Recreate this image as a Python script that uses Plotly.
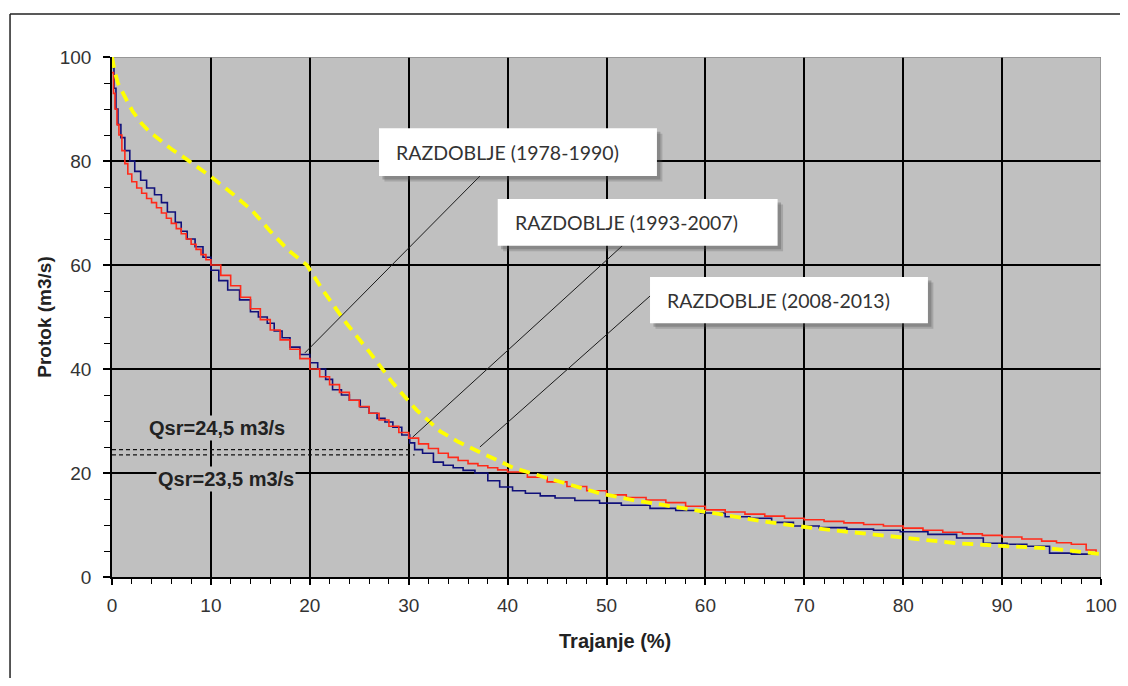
import plotly.graph_objects as go

# ---- data ----
x_1978 = [0, 0.15, 0.3, 0.5, 0.7, 1.0, 1.3, 1.6, 2.0, 2.5, 3, 3.5, 4, 4.5, 5, 5.5, 6, 6.5, 7, 7.5, 8, 8.5, 9, 9.5,
          10, 11, 12, 13, 14, 15, 16, 17, 18, 19, 20, 21, 22, 23, 24, 25, 26, 27, 28, 29, 30, 31, 32, 33, 34, 35,
          36, 37, 38, 39, 40, 42, 44, 46, 48, 50, 52, 54, 56, 58, 60, 62, 64, 66, 68, 70, 72, 74, 76, 78, 80, 82,
          84, 86, 88, 90, 92, 94, 95.5, 97, 98.5, 99.5]
y_1978 = [97, 93, 90, 87, 85, 82, 79.5, 77.5, 76, 74.8, 73.8, 72.8, 72, 71, 70, 69, 68, 67, 66, 65, 64, 63, 62, 61,
          60, 58, 56, 53.8, 51.6, 49.5, 47.5, 45.6, 43.8, 42, 40, 38.5, 37, 35.5, 34, 32.8, 31.5, 30.2, 29, 27.8,
          26.7, 25.6, 24.7, 23.8, 23, 22.4, 21.8, 21.4, 21, 20.6, 20.2, 19.2, 18.3, 17.4, 16.6, 15.8, 15.3, 14.8,
          14.3, 13.6, 12.9, 12.5, 12.1, 11.7, 11.3, 11, 10.7, 10.4, 10.1, 9.8, 9.4, 9.0, 8.6, 8.3, 8.0, 7.7, 7.3,
          6.9, 6.6, 6.3, 5.2, 4.6]

x_1993 = [0, 0.2, 0.4, 0.6, 0.9, 1.3, 1.8, 2.3, 2.9, 3.5, 4.3, 5.0, 5.6, 6.4, 7.0, 7.6, 8.4, 9.2, 10, 10.8, 11.7,
          12.9, 14.0, 14.8, 15.7, 16.4, 17.2, 18.0, 19.0, 20.0, 20.8, 21.6, 22.3, 23.2, 24.0, 25.1, 26.0, 26.8,
          27.6, 28.4, 29.3, 30.1, 30.6, 31.4, 32.5, 33.5, 34.5, 35.5, 36.7, 38.0, 39.2, 40.5, 41.8, 43.3, 44.8,
          46.8, 49.3, 51.5, 54.4, 57.0, 59.5, 62.0, 64.5, 66.7, 68.9, 71.5, 74.3, 77.0, 79.7, 82.5, 85.4, 88.1,
          90.5, 92.5, 94.8, 97.0, 99.0]
y_1993 = [98, 94, 90, 87, 84.5, 82, 80, 78, 76.3, 74.8, 73.5, 72, 70.2, 68.2, 66.5, 65, 63.5, 61.5, 59, 57, 55.2,
          53.3, 51, 50, 48.8, 47.3, 46, 44.2, 42.8, 41.2, 40, 38, 36, 35, 34, 32.7, 31.5, 30.5, 29.8, 28.8, 27.3,
          25.8, 24.5, 23.8, 22.1, 21.5, 21, 20.5, 20, 18.5, 17.3, 16.6, 16.1, 15.6, 15.2, 14.7, 14.2, 13.8, 13.2,
          12.8, 12.3, 11.6, 11.3, 10.5, 9.8, 9.5, 9.2, 9.0, 8.7, 8.2, 7.5, 6.5, 6.3, 5.9, 4.6, 4.4, 4.4]

x_2008 = [0, 0.3, 0.6, 1.0, 1.4, 2.1, 3.0, 3.8, 5.0, 6.0, 7.2, 8.5, 10, 12, 14.1, 16, 17.8, 19.7, 21.3, 23.7,
          26.1, 28.4, 30.8, 33.2, 35, 37.2, 40.6, 44.6, 49.3, 52.7, 57.7, 62.8, 66.2, 70.9, 78.3, 85.4, 89.8,
          94.8, 100]
y_2008 = [100, 97, 95, 93.3, 92, 89.5, 87.2, 85.6, 83.8, 82.3, 80.8, 79, 77, 74, 70.6, 66.5, 62.9, 60, 55.2, 48.8,
          43.1, 37.3, 32.1, 28, 26, 24, 21, 18.7, 16.1, 14.8, 13.3, 11.6, 10.6, 9.4, 7.9, 6.5, 6.0, 5.5, 4.4]

qsr_values = [24.5, 23.5]
qsr_labels = ["Qsr=24,5 m3/s", "Qsr=23,5 m3/s"]
qsr_end_x = [30.4, 30.6]

period_labels = ["RAZDOBLJE (1978-1990)", "RAZDOBLJE (1993-2007)", "RAZDOBLJE (2008-2013)"]
# label box (x0, x1, y0, y1) and leader line (x_point, y_point, x_box, y_box)
box_pos = [(27.0, 55.1, 77.1, 86.3), (39.0, 67.3, 63.7, 72.7), (54.4, 82.5, 48.8, 57.7)]
leaders = [(19.5, 43.1, 37.2, 77.1), (30.4, 26.9, 51.6, 63.7), (37.2, 25.0, 54.5, 54.2)]

x_ticks = list(range(0, 101, 10))
y_ticks = list(range(0, 101, 20))

# ---- figure ----
fig = go.Figure()

fig.add_trace(go.Scatter(x=x_1993, y=y_1993, mode="lines", line=dict(color="#10107a", width=1.6, shape="hv"),
                         name="RAZDOBLJE (1993-2007)"))
fig.add_trace(go.Scatter(x=x_1978, y=y_1978, mode="lines", line=dict(color="#ff2a1a", width=1.6, shape="hv"),
                         name="RAZDOBLJE (1978-1990)"))
fig.add_trace(go.Scatter(x=x_2008, y=y_2008, mode="lines",
                         line=dict(color="#ffff00", width=3.8, dash="11px,7px"),
                         name="RAZDOBLJE (2008-2013)"))

for q, xe in zip(qsr_values, qsr_end_x):
    fig.add_trace(go.Scatter(x=[0, xe], y=[q, q], mode="lines",
                             line=dict(color="#111111", width=1.2, dash="4px,3px"), hoverinfo="skip"))

shapes = []
# gray top / right edges of plot area
shapes.append(dict(type="line", xref="x", yref="y", x0=0, x1=100, y0=100, y1=100,
                   line=dict(color="#8a8a8a", width=1.5), layer="between"))
shapes.append(dict(type="line", xref="x", yref="y", x0=100, x1=100, y0=0, y1=100,
                   line=dict(color="#8a8a8a", width=1.5), layer="between"))
# outer chart border (top and left)
shapes.append(dict(type="line", xref="paper", yref="paper", x0=-0.1031, x1=1.0192, y0=1.0827, y1=1.0827,
                   line=dict(color="#222222", width=1.5)))
shapes.append(dict(type="line", xref="paper", yref="paper", x0=-0.1031, x1=-0.1031, y0=1.0827, y1=-0.2,
                   line=dict(color="#222222", width=1.5)))

# leader lines
for (xp, yp, xb, yb) in leaders:
    shapes.append(dict(type="line", xref="x", yref="y", x0=xp, y0=yp, x1=xb, y1=yb,
                       line=dict(color="#1a1a1a", width=1), layer="above"))

# label boxes with soft shadow
for (x0, x1, y0, y1) in box_pos:
    for k, op in [(0.55, 0.22), (0.35, 0.3)]:
        shapes.append(dict(type="rect", xref="x", yref="y", x0=x0 + k, x1=x1 + k, y0=y0 - 1.9 * k, y1=y1 - 1.9 * k,
                           fillcolor="rgba(70,70,70,%s)" % op, line=dict(width=0), layer="above"))
    shapes.append(dict(type="rect", xref="x", yref="y", x0=x0, x1=x1, y0=y0, y1=y1,
                       fillcolor="white", line=dict(width=0), layer="above"))

annotations = []
for lab, (x0, x1, y0, y1) in zip(period_labels, box_pos):
    annotations.append(dict(x=x0 + 1.5, y=(y0 + y1) / 2, xref="x", yref="y", text=lab, showarrow=False,
                            xanchor="left", yanchor="middle",
                            font=dict(family="Lato, Open Sans, sans-serif", size=19.5, color="#333333")))

annotations.append(dict(x=3.5, y=28.7, xref="x", yref="y", text="<b>" + qsr_labels[0] + "</b>", showarrow=False,
                        xanchor="left", yanchor="middle", bgcolor="#c0c0c0", borderpad=1,
                        font=dict(family="Liberation Sans, Arial", size=20, color="#222222")))
annotations.append(dict(x=4.4, y=18.9, xref="x", yref="y", text="<b>" + qsr_labels[1] + "</b>", showarrow=False,
                        xanchor="left", yanchor="middle", bgcolor="#c0c0c0", borderpad=1,
                        font=dict(family="Liberation Sans, Arial", size=20, color="#222222")))

# x axis title (slightly right of centre, as in the original)
annotations.append(dict(x=0.5086, y=-0.123, xref="paper", yref="paper", text="<b>Trajanje (%)</b>",
                        showarrow=False, xanchor="center", yanchor="middle",
                        font=dict(family="Liberation Sans, Arial", size=20, color="#222222")))

fig.update_layout(
    width=1112, height=670,
    margin=dict(l=104, r=19, t=49, b=101, autoexpand=False),
    paper_bgcolor="white", plot_bgcolor="#c0c0c0",
    showlegend=False,
    shapes=shapes, annotations=annotations,
    font=dict(family="Liberation Sans, Arial", size=19, color="#222222"),
)
fig.update_xaxes(
    range=[0, 100], tickvals=x_ticks, showgrid=True, gridcolor="#000000", gridwidth=1.5, automargin=False,
    zeroline=False, showline=True, linecolor="#000000", linewidth=1.5,
    ticks="outside", ticklen=6, tickcolor="#000000", tickwidth=1.5,
    minor=dict(dtick=2, ticks="outside", ticklen=5, tickcolor="#000000", tickwidth=1.2, showgrid=False),
    tickfont=dict(size=19, color="#333333"), ticklabelstandoff=4,
)
fig.update_yaxes(
    range=[0, 100], tickvals=y_ticks, showgrid=True, gridcolor="#000000", gridwidth=1.5, automargin=False,
    zeroline=False, showline=True, linecolor="#000000", linewidth=1.5,
    ticks="outside", ticklen=7, tickcolor="#000000", tickwidth=1.5,
    minor=dict(dtick=5, ticks="outside", ticklen=6, tickcolor="#000000", tickwidth=1.2, showgrid=False),
    tickfont=dict(size=19, color="#333333"), ticklabelstandoff=8,
    title=dict(text="<b>Protok (m3/s)</b>", font=dict(size=19, color="#222222"), standoff=3),
)

fig.write_html("out.html")
